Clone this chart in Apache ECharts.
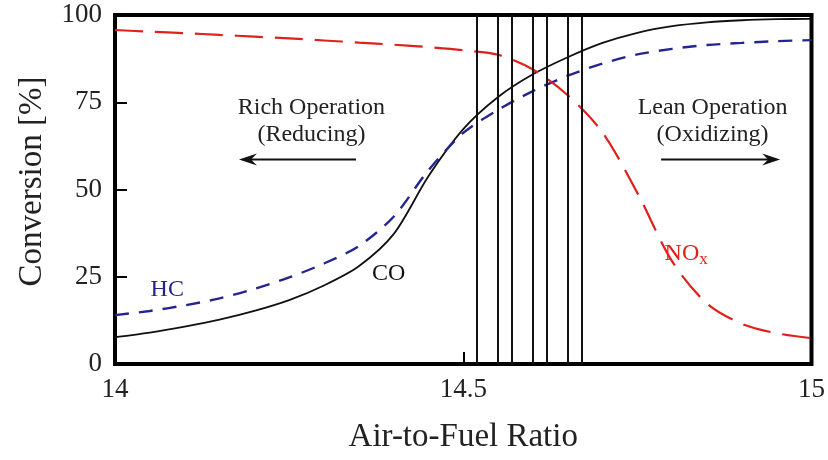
<!DOCTYPE html>
<html>
<head>
<meta charset="utf-8">
<script src="https://cdn.jsdelivr.net/npm/echarts@6/dist/echarts.min.js"></script>
<style>
html,body{margin:0;padding:0;background:#fff;}
#c{width:828px;height:460px;}
</style>
</head>
<body>
<div id="c"></div>
<script>
// Air-to-fuel ratio vs conversion (%)
const afr = [14.00,14.05,14.10,14.15,14.20,14.25,14.30,14.35,14.40,14.45,14.50,14.55,14.60,14.65,14.70,14.75,14.80,14.85,14.90,14.95,15.00];
const coY  = [7.7,9.0,10.7,12.7,15.2,18.3,22.5,28.0,37.2,53.8,67.3,76.5,83.0,87.9,92.0,94.9,96.8,97.9,98.5,98.8,98.9];
const hcY  = [14.0,15.2,16.8,18.8,21.5,24.8,28.8,33.8,42.2,55.5,66.2,72.8,78.2,82.6,86.1,88.7,90.3,91.4,92.0,92.5,92.8];
const noxY = [95.7,95.2,94.8,94.3,93.8,93.3,92.7,92.1,91.5,90.8,89.9,88.6,84.4,77.0,66.3,49.0,29.4,17.3,11.5,8.8,7.4];

const stoichLines = [14.523,14.548,14.573,14.598,14.623,14.648,14.673];

const xTicks = [14, 14.5, 15];
const yTicks = [0, 25, 50, 75, 100];

function zip(a, b) { return a.map((v, i) => [v, b[i]]); }

const FONT = '"Liberation Serif", "DejaVu Serif", serif';
const chart = echarts.init(document.getElementById('c'), null, {renderer: 'canvas'});

const option = {
  animation: false,
  backgroundColor: '#ffffff',
  grid: {left: 115, right: 14, top: 15, bottom: 96, show: true, borderColor: '#000', borderWidth: 4, backgroundColor: 'transparent'},
  xAxis: {
    type: 'value', min: 14, max: 15, interval: 0.5,
    axisLine: {show: false},
    axisTick: {show: true, inside: true, length: 12, lineStyle: {color: '#000', width: 2}},
    splitLine: {show: false},
    axisLabel: {margin: 12, fontFamily: FONT, fontSize: 27, color: '#222',
      formatter: v => (xTicks.indexOf(v) >= 0 ? String(v) : '')},
    name: 'Air-to-Fuel Ratio', nameLocation: 'middle', nameGap: 57,
    nameTextStyle: {fontFamily: FONT, fontSize: 33, color: '#222'}
  },
  yAxis: {
    type: 'value', min: 0, max: 100, interval: 25,
    axisLine: {show: false},
    axisTick: {show: true, inside: true, length: 12, lineStyle: {color: '#000', width: 2}},
    splitLine: {show: false},
    axisLabel: {margin: 13, fontFamily: FONT, fontSize: 27, color: '#222',
      formatter: v => (yTicks.indexOf(v) >= 0 ? String(v) : '')}
  },
  series: [
    {
      name: 'CO', type: 'line', data: zip(afr, coY), smooth: 0.3, showSymbol: false,
      lineStyle: {color: '#111', width: 1.8}, z: 3,
      markLine: {
        silent: true, symbol: ['none', 'none'], label: {show: false},
        lineStyle: {color: '#111', width: 2, type: 'solid'},
        data: stoichLines.map(v => ({xAxis: v}))
      }
    },
    {
      name: 'HC', type: 'line', data: zip(afr, hcY), smooth: 0.3, showSymbol: false,
      lineStyle: {color: '#25258f', width: 2.4, type: [14, 10]}, z: 3
    },
    {
      name: 'NOx', type: 'line', data: zip(afr, noxY), smooth: 0.3, showSymbol: false,
      lineStyle: {color: '#e0201b', width: 2.2, type: [28, 12]}, z: 3
    }
  ]
};
chart.setOption(option);

// annotations positioned in data coordinates
function px(x, y) { return chart.convertToPixel({gridIndex: 0}, [x, y]); }
const txt = (p, t, color, size) => ({
  type: 'text', x: p[0], y: p[1],
  style: {text: t, fill: color, font: size + 'px ' + FONT, align: 'center', verticalAlign: 'middle'}
});
function arrow(p0, p1) {
  const dir = Math.sign(p1[0] - p0[0]);
  return [
    {type: 'line', shape: {x1: p0[0], y1: p0[1], x2: p1[0] - dir * 10, y2: p1[1]}, style: {stroke: '#111', lineWidth: 2.2}},
    {type: 'polygon', shape: {points: [[p1[0], p1[1]], [p1[0] - dir * 18, p1[1] - 6], [p1[0] - dir * 12, p1[1]], [p1[0] - dir * 18, p1[1] + 6]]}, style: {fill: '#111'}}
  ];
}
const g = [];
g.push(txt(px(14.282, 73.4), 'Rich Operation', '#222', 24));
g.push(txt(px(14.282, 65.6), '(Reducing)', '#222', 24));
g.push(...arrow(px(14.346, 58.6), px(14.178, 58.6)));
g.push(txt(px(14.858, 73.4), 'Lean Operation', '#222', 24));
g.push(txt(px(14.858, 65.6), '(Oxidizing)', '#222', 24));
g.push(...arrow(px(14.784, 58.6), px(14.955, 58.6)));
g.push(txt(px(14.075, 21.2), 'HC', '#25258f', 24));
g.push(txt(px(14.393, 25.8), 'CO', '#111', 24));
const np = px(14.820, 31.5);
g.push({type: 'text', x: np[0], y: np[1],
  style: {rich: {a: {fill: '#e0201b', font: '24px ' + FONT}, b: {fill: '#e0201b', font: '17px ' + FONT, padding: [10, 0, 0, 0]}},
          text: '{a|NO}{b|x}', align: 'center', verticalAlign: 'middle'}});
// y axis name
const yc = px(14, 52.3);
g.push({type: 'text', x: 32, y: yc[1], rotation: Math.PI / 2,
  style: {text: 'Conversion [%]', fill: '#222', font: '33px ' + FONT, align: 'center', verticalAlign: 'middle'}});
chart.setOption({graphic: g});
</script>
</body>
</html>
